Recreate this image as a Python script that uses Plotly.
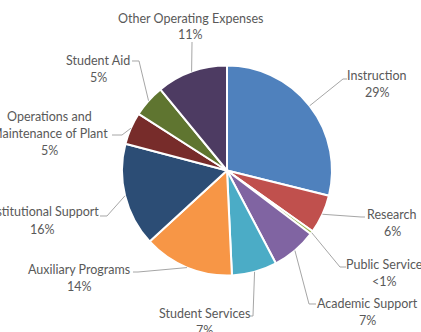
import math
import plotly.graph_objects as go

# Expense categories, clockwise from 12 o'clock
categories = [
    "Instruction",
    "Research",
    "Public Service",
    "Academic Support",
    "Student Services",
    "Auxiliary Programs",
    "Institutional Support",
    "Operations and Maintenance of Plant",
    "Student Aid",
    "Other Operating Expenses",
]
# Share of total operating expenses (%)
shares = [29, 6, 0.5, 7, 7, 14, 16, 5, 5, 11]
share_labels = ["29%", "6%", "<1%", "7%", "7%", "14%", "16%", "5%", "5%", "11%"]

colors = [
    "#4F81BD", "#C0504D", "#9BBB59", "#8064A2", "#4BACC6",
    "#F79646", "#2C4D75", "#772C2A", "#5F7530", "#4D3B62",
]

W, H = 421, 332
CX, CY, R = 227.0, 170.5, 105.0

# Label placement in pixels: name lines, centre x, first-line y, leader start, leader knee
label_layout = {
    "Instruction": (["Instruction"], 377, 76, (347, 79), (343, 79)),
    "Research": (["Research"], 392, 214, (365, 217), (361, 217)),
    "Public Service": (["Public Service"], 384, 264, (346, 267), (340, 267)),
    "Academic Support": (["Academic Support"], 367, 303, (316, 304), (309, 304)),
    "Student Services": (["Student Services"], 204, 313, (250, 316), (253, 316)),
    "Auxiliary Programs": (["Auxiliary Programs"], 79, 269, (133, 272), (138, 272)),
    "Institutional Support": (["Institutional Support"], 42, 212, (100, 216), (107, 216)),
    "Operations and Maintenance of Plant": (
        ["Operations and", "Maintenance of Plant"], 49, 116, (112, 135), (122, 135)),
    "Student Aid": (["Student Aid"], 98, 60, (132, 61), (139, 61)),
    "Other Operating Expenses": (["Other Operating Expenses"], 190, 18, (192, 42), (192, 43)),
}

LINE_H = 17
FONT = dict(family="Lato, 'Open Sans', sans-serif", size=12.5, color="#595959")


def px(x, y):
    return x / W, 1 - y / H


fig = go.Figure(
    go.Pie(
        labels=categories,
        values=shares,
        sort=False,
        direction="clockwise",
        rotation=0,
        marker=dict(colors=colors, line=dict(color="white", width=2)),
        textinfo="none",
        textposition="none",
        hoverinfo="label+percent",
        showlegend=False,
        domain=dict(
            x=[(CX - R) / W, (CX + R) / W],
            y=[1 - (CY + R) / H, 1 - (CY - R) / H],
        ),
    )
)

total = sum(shares)
cum = 0.0
annotations = []
shapes = []
for name, val, pct in zip(categories, shares, share_labels):
    theta = 2 * math.pi * (cum + val / 2) / total
    cum += val
    ex, ey = CX + R * math.sin(theta), CY - R * math.cos(theta)
    lines, lx, ly, start, knee = label_layout[name]
    for i, t in enumerate(lines + [pct]):
        x, y = px(lx, ly + i * LINE_H)
        annotations.append(dict(
            x=x, y=y, xref="paper", yref="paper", text=t, showarrow=False,
            xanchor="center", yanchor="middle", font=FONT,
        ))
    pts = [px(*start), px(*knee), px(ex, ey)]
    path = "M " + " L ".join(f"{a:.5f} {b:.5f}" for a, b in pts)
    shapes.append(dict(type="path", path=path, xref="paper", yref="paper",
                       line=dict(color="#A6A6A6", width=1)))

fig.update_layout(
    width=W, height=H,
    margin=dict(l=0, r=0, t=0, b=0),
    paper_bgcolor="white",
    plot_bgcolor="white",
    annotations=annotations,
    shapes=shapes,
)

fig.write_html("out.html")
